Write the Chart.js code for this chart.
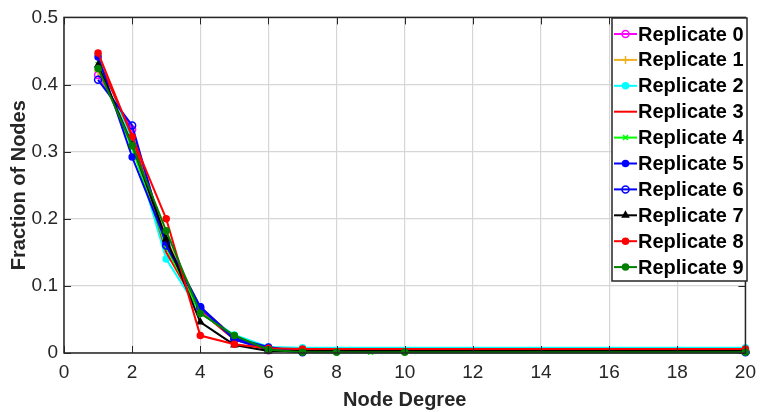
<!DOCTYPE html>
<html>
<head>
<meta charset="utf-8">
<script src="https://cdn.jsdelivr.net/npm/chart.js@4"></script>
<style>
html,body{margin:0;padding:0;background:#fff;}
#wrap{width:764px;height:412px;}
</style>
</head>
<body>
<div id="wrap"><canvas id="c" width="764" height="412"></canvas></div>
<script>
// Node degrees sampled
const xDeg = [1, 2, 3, 4, 5, 6, 7, 8, 9, 10, 20];
// Fraction of nodes per replicate (null = no point)
const rep0 = [0.414, 0.333, 0.165, 0.065, 0.022, 0.004, 0.002, null, null, null, 0.002];
const rep1 = [0.420, 0.318, 0.170, 0.068, 0.024, 0.007, 0.003, null, null, null, 0.003];
const rep2 = [0.445, 0.315, 0.140, 0.060, 0.027, 0.009, 0.008, null, null, null, 0.008];
const rep3 = [0.437, 0.325, 0.150, 0.062, 0.020, 0.006, 0.005, null, null, null, 0.005];
const rep4 = [0.430, 0.305, 0.157, 0.060, 0.025, 0.006, 0.002, null, 0.001, null, 0.001];
const rep5 = [0.441, 0.292, 0.165, 0.069, 0.022, 0.009, 0.002, null, null, null, 0.002];
const rep6 = [0.407, 0.339, 0.160, 0.068, 0.020, 0.005, 0.001, null, null, null, 0.001];
const rep7 = [0.429, 0.310, 0.170, 0.046, 0.012, 0.003, 0.003, null, null, null, 0.003];
const rep8 = [0.447, 0.322, 0.200, 0.026, 0.013, 0.007, 0.006, null, null, null, 0.006];
const rep9 = [0.424, 0.309, 0.182, 0.059, 0.026, 0.005, 0.001, 0.001, null, 0.001, 0.001];
const seriesNames = ["Replicate 0","Replicate 1","Replicate 2","Replicate 3","Replicate 4","Replicate 5","Replicate 6","Replicate 7","Replicate 8","Replicate 9"];
const xTicks = [0, 2, 4, 6, 8, 10, 12, 14, 16, 18, 20];
const yTicks = [0, 0.1, 0.2, 0.3, 0.4, 0.5];

const allSeries = [rep0, rep1, rep2, rep3, rep4, rep5, rep6, rep7, rep8, rep9];
const styles = [
  {c:'#ff00ff', p:'circle', fill:false, r:3.5},
  {c:'#edb120', p:'cross', fill:false, r:4},
  {c:'#00ffff', p:'circle', fill:true, r:3},
  {c:'#ff0000', p:false, fill:false, r:0},
  {c:'#00ff00', p:'crossRot', fill:false, r:3.5},
  {c:'#0000ff', p:'circle', fill:true, r:3},
  {c:'#0000ff', p:'circle', fill:false, r:3.5},
  {c:'#000000', p:'triangle', fill:true, r:3.5},
  {c:'#ff0000', p:'circle', fill:true, r:3},
  {c:'#008000', p:'circle', fill:true, r:3}
];

const datasets = allSeries.map((vals, i) => {
  const st = styles[i];
  return {
    label: seriesNames[i],
    data: xDeg.map((x, k) => ({x: x, y: vals[k]})).filter(d => d.y !== null),
    borderColor: st.c,
    backgroundColor: st.fill ? st.c : '#ffffff',
    pointStyle: st.p || 'circle',
    pointRadius: st.r,
    pointBorderWidth: 1.5,
    pointBackgroundColor: st.fill ? st.c : 'rgba(255,255,255,0)',
    pointBorderColor: st.c,
    borderWidth: 2,
    tension: 0,
    fill: false,
    clip: false,
    order: 10 - i
  };
});

const framePlugin = {
  id: 'frame',
  afterDraw(chart) {
    const ctx = chart.ctx;
    const a = chart.chartArea;
    const xs = chart.scales.x, ys = chart.scales.y;
    ctx.save();
    ctx.strokeStyle = '#262626';
    ctx.lineWidth = 1.5;
    ctx.strokeRect(a.left, a.top, a.right - a.left, a.bottom - a.top);
    const tl = 7;
    ctx.beginPath();
    xTicks.forEach(t => {
      const px = Math.round(xs.getPixelForValue(t)) + 0.5;
      ctx.moveTo(px, a.bottom); ctx.lineTo(px, a.bottom - tl);
      ctx.moveTo(px, a.top); ctx.lineTo(px, a.top + tl);
    });
    yTicks.forEach(t => {
      const py = Math.round(ys.getPixelForValue(t)) + 0.5;
      ctx.moveTo(a.left, py); ctx.lineTo(a.left + tl, py);
      ctx.moveTo(a.right, py); ctx.lineTo(a.right - tl, py);
    });
    ctx.lineWidth = 1;
    ctx.stroke();

    // legend
    const lx = 612, ly = 18, lw = 135, lh = 263;
    ctx.fillStyle = '#ffffff';
    ctx.fillRect(lx, ly, lw, lh);
    ctx.strokeStyle = '#262626';
    ctx.lineWidth = 1.5;
    ctx.strokeRect(lx, ly, lw, lh);
    ctx.font = 'bold 20px "Liberation Sans", Arial, sans-serif';
    ctx.textBaseline = 'middle';
    ctx.textAlign = 'left';
    chart.data.datasets.forEach((ds, i) => {
      const cy = 34 + i * 25.9;
      ctx.strokeStyle = ds.borderColor;
      ctx.lineWidth = 2;
      ctx.beginPath();
      ctx.moveTo(614, cy); ctx.lineTo(637, cy);
      ctx.stroke();
      if (ds.pointRadius > 0) {
        const drawOpts = {
          pointStyle: ds.pointStyle,
          radius: ds.pointRadius,
          borderWidth: ds.pointBorderWidth
        };
        ctx.fillStyle = ds.pointBackgroundColor;
        ctx.strokeStyle = ds.pointBorderColor;
        ctx.lineWidth = ds.pointBorderWidth;
        Chart.helpers.drawPoint(ctx, drawOpts, 625.5, cy);
      }
      ctx.fillStyle = '#000000';
      ctx.fillText(ds.label, 638, cy + 1);
    });
    ctx.restore();
  }
};

new Chart(document.getElementById('c'), {
  type: 'line',
  data: { datasets: datasets },
  options: {
    responsive: false,
    animation: false,
    devicePixelRatio: 1,
    layout: { padding: { top: 15, right: 10, left: 0, bottom: 0 } },
    plugins: { legend: { display: false }, tooltip: { enabled: false } },
    scales: {
      x: {
        type: 'linear',
        min: 0, max: 20,
        afterFit(s) { s.height = 59; },
        afterBuildTicks(s) { s.ticks = xTicks.map(v => ({value: v})); },
        ticks: { color: '#262626', padding: 8, font: { size: 19, family: '"Liberation Sans", Arial, sans-serif' }, maxRotation: 0 },
        grid: { color: '#d6d6d6', lineWidth: 1.2, drawTicks: false },
        border: { display: false },
        title: { display: true, text: 'Node Degree', color: '#262626', padding: { top: 0, bottom: 0 }, font: { size: 20, weight: 'bold', family: '"Liberation Sans", Arial, sans-serif' } }
      },
      y: {
        type: 'linear',
        min: 0, max: 0.5,
        afterFit(s) { s.width = 64; },
        afterBuildTicks(s) { s.ticks = yTicks.map(v => ({value: v})); },
        ticks: { color: '#262626', padding: 6, font: { size: 19, family: '"Liberation Sans", Arial, sans-serif' }, callback: v => String(Math.round(v * 10) / 10) },
        grid: { color: '#d6d6d6', lineWidth: 1.2, drawTicks: false },
        border: { display: false },
        title: { display: true, text: 'Fraction of Nodes', color: '#262626', padding: { top: 7, bottom: 0 }, font: { size: 20, weight: 'bold', family: '"Liberation Sans", Arial, sans-serif' } }
      }
    }
  },
  plugins: [framePlugin]
});
</script>
</body>
</html>
